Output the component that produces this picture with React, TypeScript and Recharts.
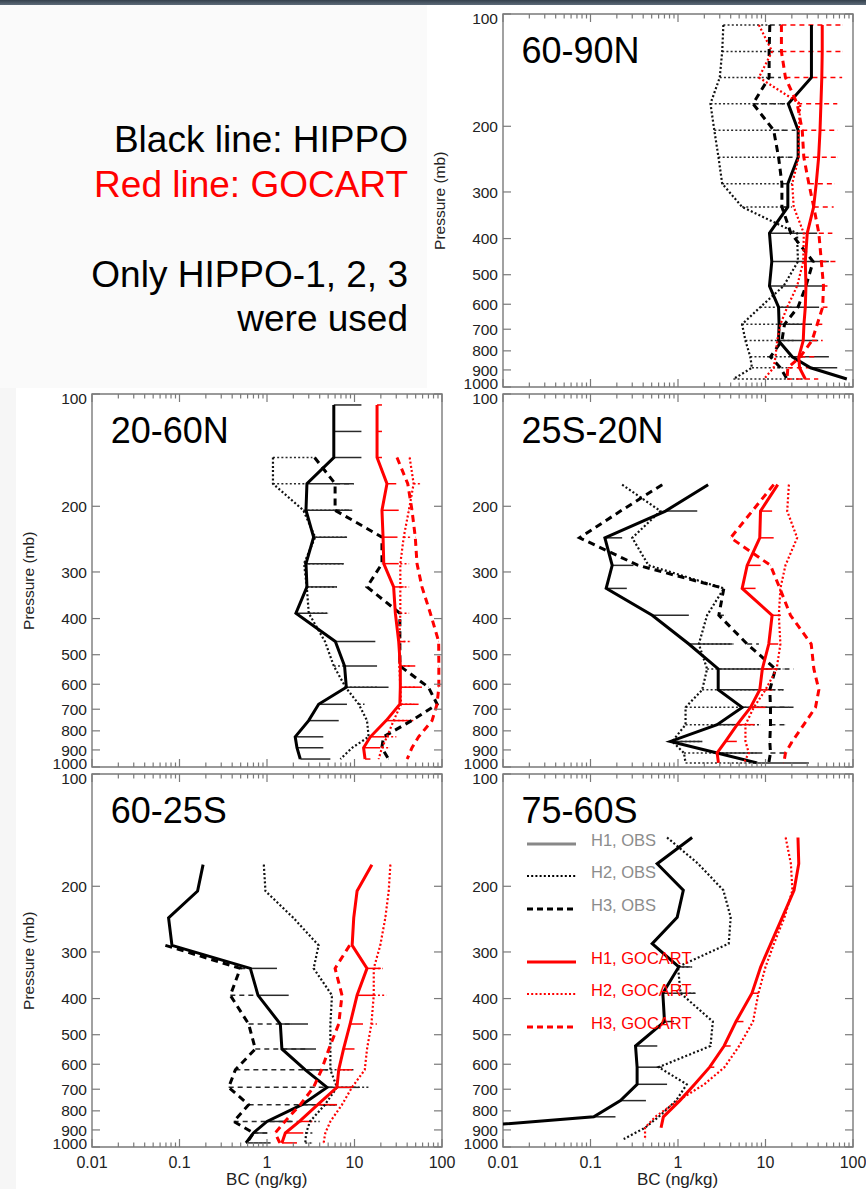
import { ScatterChart, Scatter, XAxis, YAxis, ErrorBar, ReferenceArea } from 'recharts'

// pressure levels (mb) of the profile bins
const P_A = [107, 126, 148, 174, 205, 242, 285, 329, 387, 461, 536, 611, 679, 751, 830, 888, 952]
const P_B = [107, 126, 148, 175, 206, 243, 288, 332, 392, 468, 546, 621, 692, 770, 854, 917, 975]

const DECADES = [0.01, 0.1, 1, 10]
const Y_TICKS = [100, 200, 300, 400, 500, 600, 700, 800, 900, 1000]

// 60-90N
const N6090_OBS1 = [33.5, 33.5, 33.5, 18.2, 23.6, 23.6, 18, 18, 11.1, 11.8, 11.1, 14.1, 14.3, 14.1, 20.2, 32.7, 85]
const N6090_OBS1_HI = [null, null, null, null, null, null, null, null, 39, 53, 45, 41, 34, 40, 53, 66, null]
const N6090_OBS2 = [3.3, 3.2, 3.0, 2.35, 2.6, 2.9, 3.2, 5.4, 22.9, 23.5, 16.1, 8.7, 5.4, 5.9, 6.7, 7.0, 4.3]
const N6090_OBS2_HI = [11, 11, 10.5, 16, 17, 17.5, 16, 17, null, null, null, 20, 28, 22, 28, 20, 28]
const N6090_OBS3 = [11.2, 11, 11, 7.2, 12.4, 14.1, 15.4, 15.4, 19.5, 35, 29, 23.5, 16.5, 15.4, 11.4, 14.8, 17.6]
const N6090_OBS3_HI = [15, 15, 15, 18, 22, 22, 20, 20, null, null, null, null, null, null, null, null, null]
const N6090_GOC1 = [44.5, 44.5, 44, 43, 42, 40.5, 38, 35.5, 30, 28.5, 29, 28.5, 27.5, 27, 24, 24.5, 28.5]
const N6090_GOC2 = [8.4, 11.9, 8.4, 25, 24, 24, 20.2, 21, 27.4, 27, 23, 17.7, 14.8, 13.6, 13, 12.4, 9.6]
const N6090_GOC3 = [15.2, 15.2, 16.9, 23, 26.3, 27.4, 31.3, 35.6, 40.7, 43.5, 46, 45, 39, 34, 25, 18, 17.6]
const N6090_GOC3_HI = [75, 75, 75, 66, 66, 66, 62, 60, 58, 63, 51, 51, 45, 45, 38, 33, 40]

// 20-60N
const N2060_OBS1 = [5.8, 5.8, 5.8, 2.86, 2.79, 3.41, 2.79, 2.86, 2.14, 6.04, 7.7, 8.06, 3.89, 2.99, 2.1, 2.2, 2.4]
const N2060_OBS1_HI = [12, 12, 12, 9.8, 9.4, 8.2, 7.5, 6.3, 4.85, 17.3, 18.1, 24.5, 8.2, 6.6, 4.4, 4.4, 5.3]
const N2060_OBS2 = [null, null, 1.17, 1.17, 2.6, 3.55, 2.65, 2.85, 3.0, 4.6, 5.8, 7.9, 11.2, 13.9, 14.5, 9.4, 6.9]
const N2060_OBS2_HI = [null, null, 3.3, 2.8, 8, 8.2, 7.5, 6.3, 5.0, null, 8, 18, 13, null, null, null, null]
const N2060_OBS3 = [null, null, 3.5, 6.0, 6.0, 20.6, 20.6, 13.9, 33, 33, 33, 70, 88, 45, 21.5, 20.5, 24.5]
const N2060_OBS3_HI = [null, null, null, 9.8, 9.5, null, null, null, null, null, null, null, null, null, null, null, null]
const N2060_GOC1 = [18.1, 18.1, 18.1, 23.5, 20.6, 21.2, 21.6, 28, 29.3, 32, 33.4, 33.4, 33, 23, 15.2, 12.7, 13.2]
const N2060_GOC1_HI = [20.6, 20.6, 20.6, 30, 32, 31, 32, 36.5, null, 38, 49.5, 59, 54, 47, 23.5, 19.7, 15.2]
const N2060_GOC2 = [null, null, 42.7, 47.4, 41.8, 36.5, 33.4, 33.4, 33.4, 32.5, 32.5, 33.4, 34, 28, 23.5, 20.6, 18.9]
const N2060_GOC2_HI = [null, null, null, 56, null, 44, 42, 42, 42, 44, 45, 52, 48, 40, 30, 25, null]
const N2060_GOC3 = [null, null, 30.6, 40.6, 45.4, 49.5, 51.8, 59, 73.6, 91.6, 92, 92, 87.7, 77, 54, 45.4, 40]

// 25S-20N
const S25N20_OBS1 = [null, null, null, 2.21, 0.72, 0.146, 0.177, 0.151, 0.507, 1.33, 2.88, 2.88, 5.41, 2.8, 0.82, 2.8, 8.03]
const S25N20_OBS1_HI = [null, null, null, null, 1.66, 0.23, 0.31, 0.26, 1.33, 4.16, 11.4, 8.03, 18.5, 5.2, 1.89, 9.2, 31.3]
const S25N20_OBS2 = [null, null, null, 0.23, 0.63, 0.3, 0.46, 3.34, 2.15, 1.73, 2.15, 1.89, 1.22, 1.22, 0.86, 1.17, 1.22]
const S25N20_OBS2_HI = [null, null, null, null, null, null, null, null, null, 4.3, 16, 16, 11, 8.8, 1.89, 7.9, 8.0]
const S25N20_OBS3 = [null, null, null, 0.66, 0.22, 0.075, 0.35, 3.34, 2.93, 6.17, 13, 11.2, 11.4, 11.4, 11.2, 11.4, 10.9]
const S25N20_OBS3_HI = [null, null, null, null, null, null, null, null, 3.5, 8.4, 21, 16, 21, 16.9, null, 17.7, null]
const S25N20_GOC1 = [null, null, null, 13.8, 8.77, 8.6, 6.17, 5.41, 11.9, 10.9, 9.2, 8.6, 6.74, 4.74, 3.49, 2.8, 2.9]
const S25N20_GOC1_HI = [null, null, null, null, 11.9, 12.4, 8.8, 7.7, 15, 14, 13.4, 12, 10, 7.5, 4.7, null, null]
const S25N20_GOC2 = [null, null, null, 18.5, 17.7, 23, 16.9, 14.8, 14.2, 14.8, 13.4, 10, 7.36, 5.9, 5.9, 6.45, 5.65]
const S25N20_GOC3 = [null, null, null, 12.4, 7.05, 4.0, 11.4, 14.6, 19.3, 33.3, 35.7, 40.7, 37.3, 27.4, 20.2, 16.9, 16.2]

// 60-25S
const S6025_OBS1 = [null, null, null, 0.186, 0.161, 0.075, 0.082, 0.645, 0.79, 1.42, 1.48, 2.74, 4.85, 2.51, 1.0, 0.7, 0.575]
const S6025_OBS1_HI = [null, null, null, null, null, null, null, 1.3, 1.77, 2.94, 3.63, 5, 11.2, 6.3, 1.9, 1.0, 1.1]
const S6025_OBS2 = [null, null, null, 0.92, 0.96, 2.0, 3.89, 3.41, 5.53, 5.3, 5.3, 5.3, 6.3, 4.6, 3.1, 2.8, 2.74]
const S6025_OBS2_HI = [null, null, null, null, null, null, null, null, null, null, null, 9.8, 14.5, 6.3, 4.0, 3.3, 3.3]
const S6025_OBS3 = [null, null, null, null, null, null, 0.069, 0.495, 0.381, 0.617, 0.735, 0.435, 0.365, 0.617, 0.416, 0.7, 0.59]
const S6025_OBS3_HI = [null, null, null, null, null, null, null, 0.645, 0.8, 1.9, 2.8, 4.9, 5.8, 6.3, 2.5, 1.1, null]
const S6025_GOC1 = [null, null, null, 15.8, 10.7, 9.8, 9.4, 13.9, 10.7, 8.9, 7.5, 6.6, 6.3, 3.8, 2.35, 1.62, 1.48]
const S6025_GOC1_HI = [null, null, null, null, null, null, null, 20, 16.6, 12.5, 10, 9.4, 9.4, 6.3, 3.3, 2.6, 2.2]
const S6025_GOC2 = [null, null, null, 25.7, 24.6, 22.5, 19.7, 16.6, 16.6, 15.6, 13.9, 13.1, 9.36, 7.2, 5.3, 4.64, 4.44]
const S6025_GOC2_HI = [null, null, null, null, null, null, null, 21, 23, 18, null, null, null, null, null, null, null]
const S6025_GOC3 = [null, null, null, null, null, null, 8.8, 6.0, 7.2, 6.6, 5.1, 4.2, 3.4, 2.4, 1.6, 1.24, 1.4]

// 75-60S
const S7560_OBS1 = [null, null, 1.45, 0.578, 1.15, 0.98, 0.507, 1.02, 0.671, 0.701, 0.327, 0.341, 0.341, 0.22, 0.109, 0.003, null]
const S7560_OBS1_HI = [null, null, null, null, null, null, null, 1.39, 1.59, 0.9, 0.58, 0.66, 0.75, 0.43, 0.193, null, null]
const S7560_OBS2 = [null, null, 0.75, 1.7, 3.3, 4.0, 3.8, 1.0, 1.07, 2.5, 2.35, 0.6, 1.26, 0.95, 0.6, 0.42, 0.24]
const S7560_OBS2_HI = [null, null, null, null, null, null, null, 1.45, 1.55, null, null, null, null, null, null, null, null]
const S7560_GOC1 = [null, null, 23.5, 24, 21.2, 15.6, 11.5, 8.8, 7.0, 4.6, 3.36, 2.3, 1.55, 1.05, 0.68, 0.64, null]
const S7560_GOC1_HI = [null, null, null, null, null, null, null, null, 8.3, 5.6, 4.0, 2.6, null, null, null, null, null]
const S7560_GOC2 = [null, null, 17, 19.5, 20.3, 16.5, 12.5, 10, 8.3, 7.2, 5.0, 3.4, 2.0, 1.0, 0.55, 0.42, 0.42]

const RED = '#ff0000'
const FRAME = '#7a7a7a'
const FONT = '"Liberation Sans", Arial, Helvetica, sans-serif'
const DOT = '2 2.2'

const KINDS = {
  obs1: { color: '#000', w: 3, dash: undefined, bar: '#2a2a2a', barDash: undefined },
  obs2: { color: '#111', w: 2.2, dash: DOT, bar: '#2a2a2a', barDash: DOT },
  obs3: { color: '#000', w: 3, dash: '7 5', bar: '#2a2a2a', barDash: '5 4' },
  goc1: { color: RED, w: 3, dash: undefined, bar: RED, barDash: undefined },
  goc2: { color: RED, w: 2.2, dash: DOT, bar: RED, barDash: DOT },
  goc3: { color: RED, w: 3, dash: '7 5', bar: RED, barDash: '5 4' },
}

const PANELS = [
  {
    name: '60-90N', left: 502.5, top: 14.3, levels: P_A, xLabels: false, yTitle: true,
    series: [
      ['obs2', N6090_OBS2, N6090_OBS2_HI], ['obs3', N6090_OBS3, N6090_OBS3_HI], ['obs1', N6090_OBS1, N6090_OBS1_HI],
      ['goc2', N6090_GOC2, null], ['goc3', N6090_GOC3, N6090_GOC3_HI], ['goc1', N6090_GOC1, null],
    ],
  },
  {
    name: '20-60N', left: 91.7, top: 394.3, levels: P_A, xLabels: false, yTitle: true,
    series: [
      ['obs2', N2060_OBS2, N2060_OBS2_HI], ['obs3', N2060_OBS3, N2060_OBS3_HI], ['obs1', N2060_OBS1, N2060_OBS1_HI],
      ['goc2', N2060_GOC2, N2060_GOC2_HI], ['goc3', N2060_GOC3, null], ['goc1', N2060_GOC1, N2060_GOC1_HI],
    ],
  },
  {
    name: '25S-20N', left: 502.5, top: 394.3, levels: P_B, xLabels: false, yTitle: false,
    series: [
      ['obs2', S25N20_OBS2, S25N20_OBS2_HI], ['obs3', S25N20_OBS3, S25N20_OBS3_HI], ['obs1', S25N20_OBS1, S25N20_OBS1_HI],
      ['goc2', S25N20_GOC2, null], ['goc3', S25N20_GOC3, null], ['goc1', S25N20_GOC1, S25N20_GOC1_HI],
    ],
  },
  {
    name: '60-25S', left: 91.7, top: 774.3, levels: P_B, xLabels: true, yTitle: true,
    series: [
      ['obs2', S6025_OBS2, S6025_OBS2_HI], ['obs3', S6025_OBS3, S6025_OBS3_HI], ['obs1', S6025_OBS1, S6025_OBS1_HI],
      ['goc2', S6025_GOC2, S6025_GOC2_HI], ['goc3', S6025_GOC3, null], ['goc1', S6025_GOC1, S6025_GOC1_HI],
    ],
  },
  {
    name: '75-60S', left: 502.5, top: 774.3, levels: P_A, xLabels: true, yTitle: false,
    series: [
      ['obs2', S7560_OBS2, S7560_OBS2_HI], ['obs1', S7560_OBS1, S7560_OBS1_HI],
      ['goc2', S7560_GOC2, null], ['goc1', S7560_GOC1, S7560_GOC1_HI],
    ],
  },
]

const LEGEND = [
  { label: 'H1, OBS', color: '#888', text: '#8c8c8c', w: 3, dash: undefined },
  { label: 'H2, OBS', color: '#000', text: '#8c8c8c', w: 2.2, dash: DOT },
  { label: 'H3, OBS', color: '#000', text: '#8c8c8c', w: 3, dash: '6 4' },
  { label: 'H1, GOCART', color: RED, text: RED, w: 3, dash: undefined },
  { label: 'H2, GOCART', color: RED, text: RED, w: 2.2, dash: DOT },
  { label: 'H3, GOCART', color: RED, text: RED, w: 3, dash: '6 4' },
]
const LEGEND_Y = [844, 876, 909, 962, 994, 1027]

// chart geometry
const YW = 90
const MT = 12
const MR = 18
const XH = 45
const PW = 350
const PH = 373
const W = YW + PW + MR
const H = MT + PH + XH

const X_TICKS = DECADES.flatMap((d) => [1, 2, 3, 4, 5, 6, 7, 8, 9].map((m) => Number((d * m).toPrecision(3)))).concat([100])

function isDecade(v: number) {
  const l = Math.log10(v)
  return Math.abs(l - Math.round(l)) < 1e-6
}

function makeXTick(showLabel: boolean) {
  return function XTick(props: any) {
    const { x, payload } = props
    const v = payload.value
    const major = isDecade(v)
    const len = major ? 8 : 4.5
    return (
      <g>
        <line x1={x} x2={x} y1={MT + PH} y2={MT + PH - len} stroke={FRAME} strokeWidth={1.2} />
        <line x1={x} x2={x} y1={MT} y2={MT + len} stroke={FRAME} strokeWidth={1.2} />
        {showLabel && major && (
          <text x={x} y={MT + PH + 21} textAnchor="middle" fontSize={16} fontFamily={FONT} fill="#222">
            {String(v)}
          </text>
        )}
      </g>
    )
  }
}

function YTick(props: any) {
  const { y, payload } = props
  const v = payload.value
  // end labels are nudged inside the frame, as in the original plot
  const shift = v === 100 ? 4 : v === 1000 ? -4 : 0
  return (
    <g>
      <line x1={YW} x2={YW + 8} y1={y} y2={y} stroke={FRAME} strokeWidth={1.2} />
      <line x1={YW + PW - 8} x2={YW + PW} y1={y} y2={y} stroke={FRAME} strokeWidth={1.2} />
      <text x={YW - 5} y={y + shift} dy="0.36em" textAnchor="end" fontSize={15.5} fontFamily={FONT} fill="#222">
        {v}
      </text>
    </g>
  )
}

function toPoints(levels: number[], values: (number | null)[], hi: (number | null)[] | null) {
  const pts: { x: number; y: number; err: number[] }[] = []
  values.forEach((v, i) => {
    if (v == null) return
    const h = hi ? hi[i] : null
    pts.push({ x: v, y: levels[i], err: [0, h != null && h > v ? h - v : 0] })
  })
  return pts
}

const Blank = () => <g />

function Panel({ p }: { p: any }) {
  return (
    <div style={{ position: 'absolute', left: p.left - YW, top: p.top - MT }}>
      <ScatterChart width={W} height={H} margin={{ top: MT, right: MR, bottom: 0, left: 0 }}>
        <XAxis
          type="number"
          dataKey="x"
          scale="log"
          domain={[0.01, 100]}
          allowDataOverflow
          ticks={X_TICKS}
          interval={0}
          axisLine={false}
          tickLine={false}
          height={XH}
          tick={makeXTick(p.xLabels)}
        />
        <YAxis
          type="number"
          dataKey="y"
          scale="log"
          domain={[100, 1000]}
          reversed
          allowDataOverflow
          ticks={Y_TICKS}
          interval={0}
          axisLine={false}
          tickLine={false}
          width={YW}
          tick={YTick}
        />
        <ReferenceArea x1={0.01} x2={100} y1={100} y2={1000} fill="none" stroke={FRAME} strokeWidth={1.4} />
        {p.series.map(([kind, values, hi]: any, i: number) => {
          const k = (KINDS as any)[kind]
          return (
            <Scatter
              key={p.name + i}
              data={toPoints(p.levels, values, hi)}
              shape={Blank}
              fill="none"
              line={{ stroke: k.color, strokeWidth: k.w, strokeDasharray: k.dash }}
              lineJointType="linear"
              isAnimationActive={false}
            >
              <ErrorBar
                dataKey="err"
                direction="x"
                width={0}
                stroke={k.bar}
                strokeWidth={1.5}
                strokeDasharray={k.barDash}
                isAnimationActive={false}
              />
            </Scatter>
          )
        })}
      </ScatterChart>
    </div>
  )
}

export default function App() {
  return (
    <div
      style={{
        position: 'absolute',
        left: 0,
        top: 0,
        width: 866,
        height: 1189,
        overflow: 'hidden',
        background: '#f6f6f6',
        fontFamily: FONT,
      }}
    >
      <div style={{ position: 'absolute', left: 0, top: 0, width: 866, height: 5, background: 'linear-gradient(#34404c, #5d6b79)' }} />
      <div style={{ position: 'absolute', left: 0, top: 5, width: 427, height: 383, background: '#fafafa' }} />
      <div style={{ position: 'absolute', left: 427, top: 5, width: 439, height: 383, background: '#fff' }} />
      <div style={{ position: 'absolute', left: 16, top: 388, width: 850, height: 801, background: '#fff' }} />

      {PANELS.map((p) => (
        <Panel key={p.name} p={p} />
      ))}

      <svg width={866} height={1189} style={{ position: 'absolute', left: 0, top: 0, pointerEvents: 'none' }}>
        <g fontFamily={FONT} textAnchor="end" fontSize={37}>
          <text x={408} y={152} fill="#000">Black line: HIPPO</text>
          <text x={408} y={197} fill={RED}>Red line: GOCART</text>
          <text x={408} y={287} fill="#000">Only HIPPO-1, 2, 3</text>
          <text x={408} y={331} fill="#000">were used</text>
        </g>
        {PANELS.map((p) => (
          <g key={p.name} fontFamily={FONT}>
            <text x={p.left + 19} y={p.top + 49} fontSize={36} fill="#000">
              {p.name}
            </text>
            {p.yTitle && (
              <text
                transform={`translate(${p.left - 63}, ${p.top + PH / 2}) rotate(-90)`}
                textAnchor="middle"
                dy="0.35em"
                fontSize={15.5}
                fill="#222"
              >
                Pressure (mb)
              </text>
            )}
            {p.xLabels && (
              <text x={p.left + PW / 2} y={p.top + PH + 38} textAnchor="middle" fontSize={17} fill="#222">
                BC (ng/kg)
              </text>
            )}
          </g>
        ))}
        <g fontFamily={FONT} fontSize={16.5}>
          {LEGEND.map((l, i) => (
            <g key={l.label}>
              <line x1={527} x2={576} y1={LEGEND_Y[i]} y2={LEGEND_Y[i]} stroke={l.color} strokeWidth={l.w} strokeDasharray={l.dash} />
              <text x={591} y={LEGEND_Y[i] + 2} fill={l.text}>
                {l.label}
              </text>
            </g>
          ))}
        </g>
      </svg>
    </div>
  )
}
